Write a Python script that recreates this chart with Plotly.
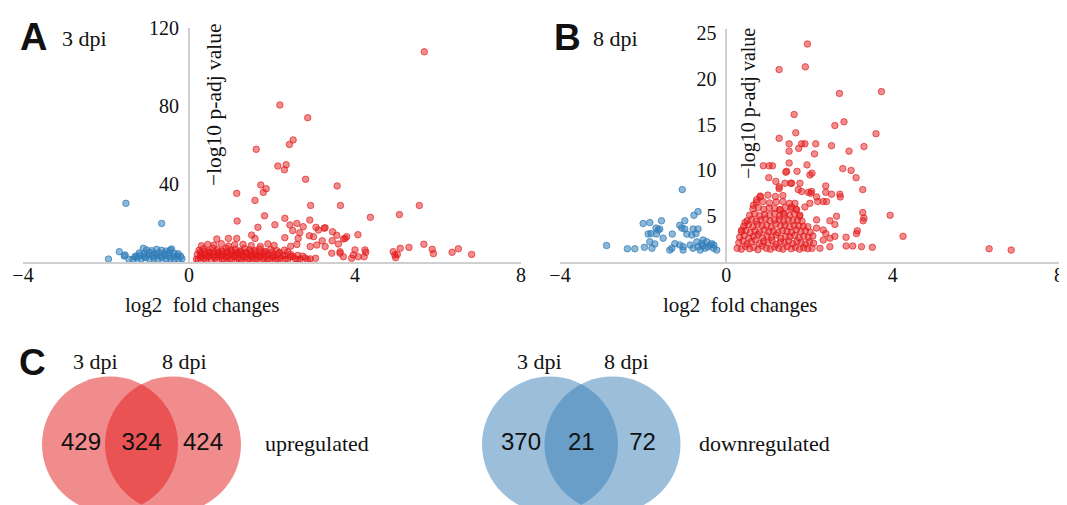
import plotly.graph_objects as go

# ---------------- data ----------------
x_ticks = [-4, 0, 4, 8]
a_y_ticks = [40, 80, 120]
b_y_ticks = [5, 10, 15, 20, 25]

# Panel A (3 dpi) upregulated: log2FC, -log10 padj
a_up_x = [
    5.67, 2.19, 2.86, 2.51, 2.42, 1.62, 2.14, 2.34, 2.30, 2.81,
    3.57, 1.73, 1.86, 1.79, 1.15, 1.59, 2.93, 3.65, 5.55, 1.82,
    1.16, 2.31, 2.60, 2.91, 2.07, 1.66, 2.43, 3.28, 3.46, 3.56,
    3.06, 4.07, 4.37, 5.07, 2.50, 2.75, 3.12, 3.26, 2.31, 2.63,
    3.00, 3.76, 0.67, 0.95, 1.15, 1.51, 1.59, 2.67, 2.90, 3.21,
    3.45, 3.60, 3.72, 3.80, 3.28, 3.08, 2.92, 3.44, 3.64, 3.72,
    3.92, 4.08, 4.24, 4.26, 4.22, 4.00, 3.96, 4.92, 4.96, 4.98,
    5.02, 5.09, 5.30, 5.66, 5.86, 5.89, 6.34, 6.49, 6.81, 3.64,
    0.18, 0.27, 0.36, 0.45, 0.54, 0.63, 0.72, 0.81, 0.90, 0.99,
    1.08, 1.17, 1.26, 1.35, 1.44, 1.53, 1.62, 1.71, 1.80, 1.90,
    2.00, 2.10, 2.20, 2.32, 2.44, 2.56, 2.68, 2.80, 2.92, 3.05,
    0.22, 0.31, 0.40, 0.49, 0.58, 0.67, 0.76, 0.85, 0.94, 1.03,
    1.12, 1.21, 1.30, 1.39, 1.48, 1.57, 1.66, 1.75, 1.85, 1.95,
    2.05, 2.15, 2.26, 2.38, 2.50, 2.62, 2.74, 2.86,
    0.20, 0.30, 0.40, 0.50, 0.60, 0.70, 0.80, 0.90, 1.00, 1.10,
    1.20, 1.30, 1.40, 1.50, 1.60, 1.70, 1.80, 1.90, 2.02, 2.15,
    2.30, 2.45, 2.62,
    0.27, 0.38, 0.49, 0.60, 0.71, 0.82, 0.93, 1.04, 1.15, 1.26,
    1.37, 1.48, 1.60, 1.72, 1.85, 2.00, 2.18, 2.38,
    0.24, 0.35, 0.46, 0.57, 0.68, 0.79, 0.90, 1.01, 1.12, 1.23,
    1.34, 1.46, 1.58, 1.70, 1.83, 1.97, 2.12, 2.30,
    0.30, 0.45, 0.60, 0.78, 0.95, 1.10, 1.30, 1.50, 1.72, 1.90,
    2.05, 2.45, 2.60,
]
a_up_y = [
    107.8, 80.5, 74.0, 62.6, 60.3, 57.8, 49.2, 49.9, 47.3, 42.4,
    39.0, 39.5, 37.6, 35.7, 35.2, 31.6, 29.0, 29.0, 29.0, 23.7,
    21.0, 22.4, 19.8, 21.5, 19.1, 17.8, 19.0, 17.6, 15.5, 13.7,
    17.8, 14.0, 22.9, 24.3, 16.1, 18.1, 16.4, 17.3, 12.5, 12.1,
    13.0, 12.1, 11.8, 12.1, 12.1, 13.8, 12.1, 15.0, 13.5, 10.9,
    10.9, 9.2, 11.8, 13.0, 7.9, 8.7, 7.9, 4.5, 5.3, 2.7,
    1.9, 2.7, 6.2, 5.0, 2.7, 6.2, 3.6, 5.3, 3.6, 2.2,
    3.9, 7.0, 7.5, 9.1, 6.5, 4.3, 5.0, 6.8, 3.9, 4.5,
    1.5, 2.4, 1.8, 2.7, 1.4, 2.1, 2.9, 1.6, 2.3, 1.5,
    2.7, 1.9, 1.4, 2.5, 1.7, 2.2, 1.5, 2.6, 1.8, 1.6,
    2.3, 1.5, 2.0, 1.4, 2.6, 1.7, 1.5, 2.1, 1.6, 1.9,
    1.1, 3.0, 1.2, 3.1, 2.9, 1.1, 3.2, 1.2, 3.0, 1.1,
    3.1, 1.2, 2.9, 1.1, 3.2, 1.2, 3.0, 1.1, 2.9, 1.2,
    3.0, 1.1, 3.1, 1.2, 2.9, 1.1, 3.0, 1.2,
    3.8, 4.4, 3.5, 4.6, 3.9, 4.2, 3.6, 4.8, 4.0, 3.7,
    4.5, 3.9, 4.3, 3.6, 4.1, 3.5, 4.4, 3.8, 3.6, 4.2,
    3.5, 3.9, 3.4,
    5.0, 5.3, 4.9, 5.2, 5.1, 5.4, 4.9, 5.2, 5.0, 5.3,
    4.9, 5.1, 5.2, 4.9, 5.1, 5.0, 4.9, 5.2,
    6.0, 6.8, 5.6, 7.2, 6.3, 5.8, 7.0, 6.1, 6.6, 5.7,
    6.9, 6.2, 5.9, 6.7, 5.5, 6.4, 5.8, 6.1,
    8.3, 9.0, 8.6, 9.4, 8.2, 8.8, 9.1, 8.4, 8.0, 9.3,
    8.5, 8.1, 9.0,
]

# Panel A (3 dpi) downregulated
a_down_x = [
    -1.52, -0.66, -1.94, -1.68, -1.56, -1.45, -1.10, -0.42, -1.54, -1.30,
    -1.35, -1.25, -1.15, -1.05, -0.95, -0.85, -0.75, -0.65, -0.55, -0.45,
    -0.35, -0.25, -0.17,
    -1.28, -1.18, -1.08, -0.98, -0.88, -0.78, -0.68, -0.58, -0.48, -0.38,
    -0.28, -0.20,
    -1.20, -1.08, -0.96, -0.84, -0.72, -0.60, -0.48, -0.36, -0.26,
    -1.02, -0.90, -0.78, -0.66, -0.55, -0.45,
]
a_down_y = [
    30.1, 19.8, 1.5, 5.3, 3.1, 1.4, 7.0, 6.7, 3.6, 2.7,
    1.4, 2.0, 1.6, 2.2, 1.5, 1.9, 1.4, 2.1, 1.6, 1.8,
    1.5, 1.3, 1.7,
    3.0, 3.4, 2.8, 3.6, 3.1, 3.3, 2.9, 3.5, 3.0, 2.8,
    3.2, 2.9,
    4.6, 4.2, 5.0, 4.4, 4.8, 4.3, 4.9, 4.5, 4.2,
    6.2, 5.8, 6.5, 6.0, 5.6, 6.1,
]

# Panel B (8 dpi) upregulated
b_up_x = [
    1.95, 1.90, 1.27, 3.73, 2.72, 1.63, 2.83, 2.61, 1.67, 3.60,
    1.27, 1.51, 1.81, 1.89, 2.15, 2.53, 3.31, 1.51, 1.74, 2.95,
    2.12, 0.89, 1.03, 1.11, 1.51, 1.94, 2.80, 3.00, 1.70, 1.43,
    2.06, 2.01, 1.02, 3.12, 1.55, 1.27, 2.39, 3.28, 2.39, 2.53,
    2.73, 2.74, 2.03, 2.17, 2.20, 2.33, 2.41, 3.28, 3.94, 3.31,
    3.29, 2.65, 2.49, 2.61, 3.15, 3.13, 4.25, 2.88, 2.88, 3.04,
    3.25, 3.51, 2.17, 2.49, 2.49, 2.39, 6.32, 6.85,
    1.19, 1.45, 1.41, 1.57, 1.77, 1.27, 1.73, 1.81, 1.97, 2.05,
    1.77, 1.69, 2.17, 2.33, 2.61, 2.33, 2.25, 2.01, 1.89, 1.57,
    1.65, 1.29, 1.37, 0.73, 0.65, 0.81, 0.37, 0.45,
    0.26, 0.36, 0.46, 0.56, 0.66, 0.76, 0.86, 0.96, 1.06, 1.16,
    1.26, 1.36, 1.46, 1.56, 1.66, 1.76, 1.86, 1.96, 2.06,
    0.30, 0.40, 0.50, 0.60, 0.70, 0.80, 0.90, 1.00, 1.10, 1.20,
    1.30, 1.40, 1.50, 1.60, 1.70, 1.80, 1.90, 2.00, 2.10,
    0.32, 0.43, 0.54, 0.65, 0.76, 0.87, 0.98, 1.09, 1.20, 1.31,
    1.42, 1.53, 1.64, 1.75, 1.86, 1.97, 2.08,
    0.36, 0.47, 0.58, 0.69, 0.80, 0.91, 1.02, 1.13, 1.24, 1.35,
    1.46, 1.57, 1.68, 1.79, 1.90, 2.02,
    0.42, 0.53, 0.64, 0.75, 0.86, 0.97, 1.08, 1.19, 1.30, 1.41,
    1.52, 1.63, 1.74, 1.85, 1.96,
    0.50, 0.61, 0.72, 0.83, 0.94, 1.05, 1.16, 1.27, 1.38, 1.49,
    1.60, 1.71, 1.82,
    0.56, 0.68, 0.80, 0.92, 1.04, 1.16, 1.28, 1.40, 1.52, 1.64,
    1.76,
    0.64, 0.77, 0.90, 1.03, 1.16, 1.29, 1.42, 1.55, 1.68,
    0.72, 0.88, 1.04, 1.20, 1.36, 1.52,
    0.82, 1.00, 1.18, 1.36,
]
b_up_y = [
    23.8, 21.3, 21.0, 18.6, 18.4, 16.1, 15.3, 14.9, 14.1, 14.0,
    13.5, 12.9, 12.9, 12.9, 12.9, 12.7, 12.6, 12.1, 12.4, 12.1,
    11.8, 10.5, 10.5, 10.5, 10.8, 10.6, 10.2, 10.0, 9.9, 9.8,
    9.7, 9.5, 9.2, 9.2, 8.6, 8.2, 8.3, 7.9, 7.6, 7.4,
    7.4, 7.1, 7.5, 7.1, 6.6, 6.6, 6.6, 5.4, 5.1, 4.8,
    4.5, 5.0, 4.5, 4.1, 3.4, 3.1, 2.8, 2.7, 1.75, 1.75,
    1.67, 1.6, 4.6, 2.6, 1.67, 3.1, 1.45, 1.3,
    8.8, 9.9, 8.6, 8.6, 8.6, 8.0, 7.9, 7.7, 7.6, 7.7,
    5.1, 5.7, 3.7, 3.5, 2.8, 2.4, 1.5, 6.4, 6.0, 6.0,
    6.4, 5.7, 5.3, 6.8, 6.2, 7.1, 3.5, 4.3,
    1.5, 1.4, 1.7, 1.45, 1.6, 1.35, 1.75, 1.5, 1.4, 1.65,
    1.5, 1.4, 1.7, 1.45, 1.6, 1.4, 1.55, 1.45, 1.5,
    2.1, 2.3, 1.95, 2.2, 2.4, 2.0, 2.25, 2.1, 2.35, 1.95,
    2.2, 2.1, 2.3, 2.0, 2.25, 2.1, 1.95, 2.2, 2.05,
    2.7, 2.9, 2.6, 2.8, 3.0, 2.65, 2.85, 2.7, 2.95, 2.6,
    2.8, 2.75, 2.9, 2.65, 2.8, 2.7, 2.85,
    3.3, 3.45, 3.2, 3.4, 3.25, 3.5, 3.3, 3.4, 3.2, 3.45,
    3.35, 3.25, 3.5, 3.3, 3.4, 3.25,
    3.9, 4.05, 3.85, 4.1, 3.95, 4.0, 3.8, 4.15, 3.9, 4.05,
    3.85, 4.0, 3.95, 3.9, 3.85,
    4.5, 4.65, 4.45, 4.6, 4.7, 4.5, 4.55, 4.65, 4.45, 4.6,
    4.5, 4.55, 4.45,
    5.1, 5.25, 5.05, 5.2, 5.15, 5.3, 5.05, 5.2, 5.1, 5.25,
    5.0,
    5.8, 5.95, 5.75, 5.9, 5.85, 5.7, 5.95, 5.8, 5.75,
    6.5, 6.6, 6.45, 6.55, 6.6, 6.4,
    7.2, 7.3, 7.15, 7.25,
]

# Panel B (8 dpi) downregulated
b_down_x = [
    -1.06, -2.88, -2.38, -2.20, -1.97, -1.79, -2.00, -1.84, -1.56, -1.88,
    -1.81, -1.69, -1.64, -1.60, -1.68, -1.52, -1.84, -1.72, -1.30, -1.12,
    -1.00, -1.07, -1.00, -0.80, -0.68, -0.78, -0.68, -0.83, -0.73, -0.95,
    -1.24, -1.12, -1.04, -1.36, -1.31, -1.04,
    -0.87, -0.80, -0.68, -0.59, -0.56, -0.47, -0.44, -0.39, -0.31, -0.23,
    -0.63, -0.51, -0.35, -0.71, -0.30, -0.57,
]
b_down_y = [
    7.9, 1.8, 1.45, 1.45, 1.6, 1.5, 4.2, 4.3, 4.5, 3.05,
    3.1, 3.7, 3.5, 3.6, 3.05, 2.6, 2.2, 1.97, 3.05, 4.0,
    4.5, 3.7, 3.6, 3.6, 3.6, 5.1, 5.5, 2.95, 3.1, 3.05,
    2.0, 1.85, 1.67, 1.3, 1.5, 1.3,
    1.85, 1.5, 1.67, 2.0, 2.4, 2.2, 1.67, 1.85, 1.5, 1.3,
    1.3, 1.5, 2.0, 2.2, 1.85, 1.75,
]

# Venn counts: [3 dpi only, both, 8 dpi only]
venn_up = [429, 324, 424]
venn_down = [370, 21, 72]
venn_set_labels = ["3 dpi", "8 dpi"]

# ---------------- styling / layout ----------------
# the page body has an 8px margin, so the figure is drawn 8px smaller and
# every window-pixel position below is shifted by that offset
OFF = 8
WIN_W, WIN_H = 1067, 505
W, H = WIN_W - OFF, WIN_H - OFF
RED_FILL, RED_LINE = "rgba(228,26,28,0.5)", "rgba(228,26,28,0.65)"
BLUE_FILL, BLUE_LINE = "rgba(49,125,184,0.55)", "rgba(49,125,184,0.75)"
SERIF = "Liberation Serif, Times New Roman, serif"
SANS = "Liberation Sans, Arial, sans-serif"
TXT = "#111111"
AXC = "#cfcfcf"


def fx(p):
    return (p - OFF) / W


def fy(p):
    return 1 - (p - OFF) / H


fig = go.Figure()


def add_points(x, y, fill, line, xa, ya):
    fig.add_trace(go.Scatter(
        x=x, y=y, mode="markers", xaxis=xa, yaxis=ya, cliponaxis=False,
        marker=dict(size=6.5, color=fill, line=dict(color=line, width=1)),
        showlegend=False, hoverinfo="skip"))


add_points(a_down_x, a_down_y, BLUE_FILL, BLUE_LINE, "x", "y")
add_points(a_up_x, a_up_y, RED_FILL, RED_LINE, "x", "y")
add_points(b_down_x, b_down_y, BLUE_FILL, BLUE_LINE, "x2", "y2")
add_points(b_up_x, b_up_y, RED_FILL, RED_LINE, "x2", "y2")

common = dict(showline=True, linecolor=AXC, linewidth=2, showgrid=False,
              zeroline=False, automargin=False,
              tickfont=dict(family=SERIF, size=20, color=TXT), fixedrange=True)
xcommon = dict(ticks="", ticklabelstandoff=-6, **common)
ycommon = dict(ticks="outside", tickcolor="rgba(0,0,0,0)", ticklen=5, **common)

# Venn diagrams (window-pixel coordinate system for the lower band)
venn_r = 68
venn_cy = 444.5
up_centers = [110, 173]
down_centers = [550, 612.5]
shapes = []
for cx in up_centers:
    shapes.append(dict(type="circle", xref="x3", yref="y3", layer="below",
                       x0=cx - venn_r, x1=cx + venn_r, y0=venn_cy - venn_r, y1=venn_cy + venn_r,
                       fillcolor="rgba(228,26,28,0.5)", line=dict(width=0)))
for cx in down_centers:
    shapes.append(dict(type="circle", xref="x3", yref="y3", layer="below",
                       x0=cx - venn_r, x1=cx + venn_r, y0=venn_cy - venn_r, y1=venn_cy + venn_r,
                       fillcolor="rgba(55,126,184,0.5)", line=dict(width=0)))


def venn_text_x(c):
    return [c[0] - 29, (c[0] + c[1]) / 2, c[1] + 30]


fig.add_trace(go.Scatter(
    x=venn_text_x(up_centers) + venn_text_x(down_centers),
    y=[venn_cy - 1] * 6,
    text=[str(v) for v in venn_up + venn_down],
    mode="text", xaxis="x3", yaxis="y3", showlegend=False, hoverinfo="skip",
    textfont=dict(family=SANS, size=24, color=TXT)))

fig.update_layout(
    width=W, height=H, autosize=False,
    margin=dict(l=0, r=0, t=0, b=0, pad=0, autoexpand=False),
    paper_bgcolor="white", plot_bgcolor="rgba(0,0,0,0)",
    xaxis=dict(domain=[fx(23), fx(521)], range=[-4, 8], tickvals=x_ticks,
               anchor="y", **xcommon),
    yaxis=dict(domain=[fy(262), fy(28)], range=[0, 120], tickvals=a_y_ticks,
               anchor="free", position=fx(189), **ycommon),
    xaxis2=dict(domain=[fx(560), fx(1059)], range=[-4, 8], tickvals=x_ticks,
                anchor="y2", **xcommon),
    yaxis2=dict(domain=[fy(262), fy(29.3)], range=[0, 25.4], tickvals=b_y_ticks,
                anchor="free", position=fx(726.4), **ycommon),
    xaxis3=dict(domain=[0, 1], range=[OFF, WIN_W], visible=False, fixedrange=True,
                anchor="y3", automargin=False),
    yaxis3=dict(domain=[0, fy(320)], range=[WIN_H, 320], visible=False, fixedrange=True,
                anchor="x3", automargin=False),
    shapes=shapes,
)


def ann(text, x, y, size, family=SERIF, angle=0, xanchor="center"):
    fig.add_annotation(text=text, x=fx(x), y=fy(y), xref="paper", yref="paper",
                       showarrow=False, textangle=angle, xanchor=xanchor, yanchor="middle",
                       font=dict(family=family, size=size, color=TXT))


# panel letters and titles
ann("<b>A</b>", 33, 37, 38, SANS)
ann("3 dpi", 84, 39, 22)
ann("<b>B</b>", 567, 37, 37, SANS)
ann("8 dpi", 615, 39, 22)
ann("<b>C</b>", 32, 362, 37, SANS)

# axis titles
ann("log2\u00a0 fold changes", 202, 305, 21)
ann("log2\u00a0 fold changes", 740, 305, 21)
ann("\u2212log10 p-adj value", 214, 105, 21.5, angle=-90)
ann("\u2212log10 p-adj value", 749, 104, 20, angle=-90)

# venn labels
ann(venn_set_labels[0], 95, 361, 22)
ann(venn_set_labels[1], 184, 361, 22)
ann(venn_set_labels[0], 539, 361, 22)
ann(venn_set_labels[1], 626, 361, 22)
ann("upregulated", 263, 443, 22, xanchor="left")
ann("downregulated", 697, 443, 22, xanchor="left")

fig.write_html("out.html")
